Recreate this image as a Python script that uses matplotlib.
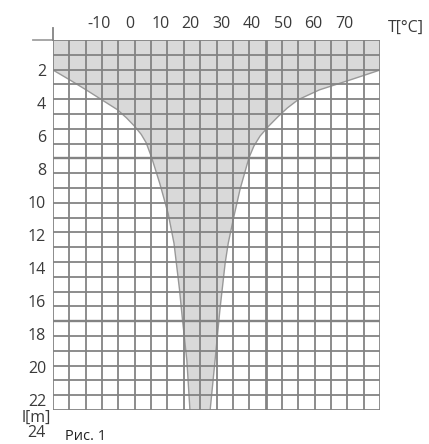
import matplotlib
matplotlib.use('Agg')
import numpy as np
import matplotlib.pyplot as plt

# Chart data
temp_ticks = [-10, 0, 10, 20, 30, 40, 50, 60, 70]
depth_ticks = [2, 4, 6, 8, 10, 12, 14, 16, 18, 20, 22]

# Left edge of the shaded zone: temperature [C] vs depth [m]
depth_left = [2.0, 2.6, 3.2, 3.8, 4.4, 4.9, 5.4, 5.9, 6.4, 7.3, 8.9, 10.7, 12.5, 15.3, 17.0, 19.6, 22.6]
temp_left = [-25.0, -19.5, -14.2, -9.1, -4.0, -1.0, 1.6, 3.8, 5.4, 7.2, 9.9, 12.6, 14.5, 16.3, 17.2, 18.7, 19.7]
# Right edge of the shaded zone
depth_right = [2.0, 2.6, 3.2, 3.8, 4.3, 4.8, 5.4, 6.0, 6.6, 7.3, 9.2, 11.0, 12.5, 13.7, 16.5, 19.6, 22.6]
temp_right = [81.75, 72.0, 62.0, 55.0, 51.5, 48.6, 45.4, 42.6, 40.6, 39.0, 36.1, 33.9, 32.2, 31.2, 29.5, 27.9, 26.3]

# Axis range
t_min, t_max = -25.0, 81.75
l_top, l_bottom = 0.18, 22.6

plt.rcParams['font.family'] = ['Open Sans', 'DejaVu Sans']

fig = plt.figure(figsize=(4.29, 4.44), dpi=100)
ax = fig.add_axes([53/429, 1 - 410/444, 327/429, 370/444])
ax.set_xlim(t_min, t_max)
ax.set_ylim(l_bottom, l_top)

# Shaded zone
poly_x = temp_left + temp_right[::-1] + [t_max, t_min]
poly_y = depth_left + depth_right[::-1] + [l_top, l_top]
ax.fill(poly_x, poly_y, color='#d9d9d9', zorder=1, lw=0)
ax.plot(temp_left, depth_left, color='#999999', lw=1, zorder=2)
ax.plot(temp_right, depth_right, color='#999999', lw=1, zorder=2)

# Millimetre-paper style grid: 20 columns, 25 rows
for i, xv in enumerate(np.linspace(t_min, t_max, 21)):
    lw = 2.0 if i in (13, 20) else 1.3
    ax.axvline(xv, color='#838383', lw=lw, zorder=3)
for i, yv in enumerate(np.linspace(l_top, l_bottom, 26)):
    lw = 1.7 if i in (8, 19) else 1.3
    ax.axhline(yv, color='#838383', lw=lw, zorder=3)

for s in ax.spines.values():
    s.set_visible(False)

# Frame pieces sticking out of the top-left corner
ax.plot([t_min - 20/3.0625, t_min], [l_top, l_top], color='#a0a0a0', lw=1.3, clip_on=False)
ax.plot([t_min, t_min], [l_top - 12/16.5, l_top], color='#838383', lw=1.3, clip_on=False)

# Tick labels
ax.xaxis.tick_top()
ax.set_xticks(temp_ticks)
ax.set_xticklabels([str(t) for t in temp_ticks])
ax.set_yticks(depth_ticks)
ax.set_yticklabels([str(d) for d in depth_ticks])
ax.tick_params(length=0, labelsize=11.5, colors='#3a3a3a')
ax.tick_params(axis='x', pad=6)
ax.tick_params(axis='y', pad=5)

# Axis titles
ax.text(t_max + 8/3.0625, l_top - 12/16.5, 'T[°C]', fontsize=11.5, color='#3a3a3a',
        ha='left', va='center', clip_on=False)
ax.text(t_min - 2/3.0625, 23.1, 'l[m]', fontsize=11.5, color='#3a3a3a',
        ha='right', va='center', clip_on=False)
ax.text(t_min - 7/3.0625, 24.0, '24', fontsize=11.5, color='#3a3a3a',
        ha='right', va='center', clip_on=False)

fig.text(65/429, 1 - 429/444, 'Рис. 1', fontsize=10.5, color='#222222', ha='left', va='top')

plt.savefig('out.png', dpi=100)
